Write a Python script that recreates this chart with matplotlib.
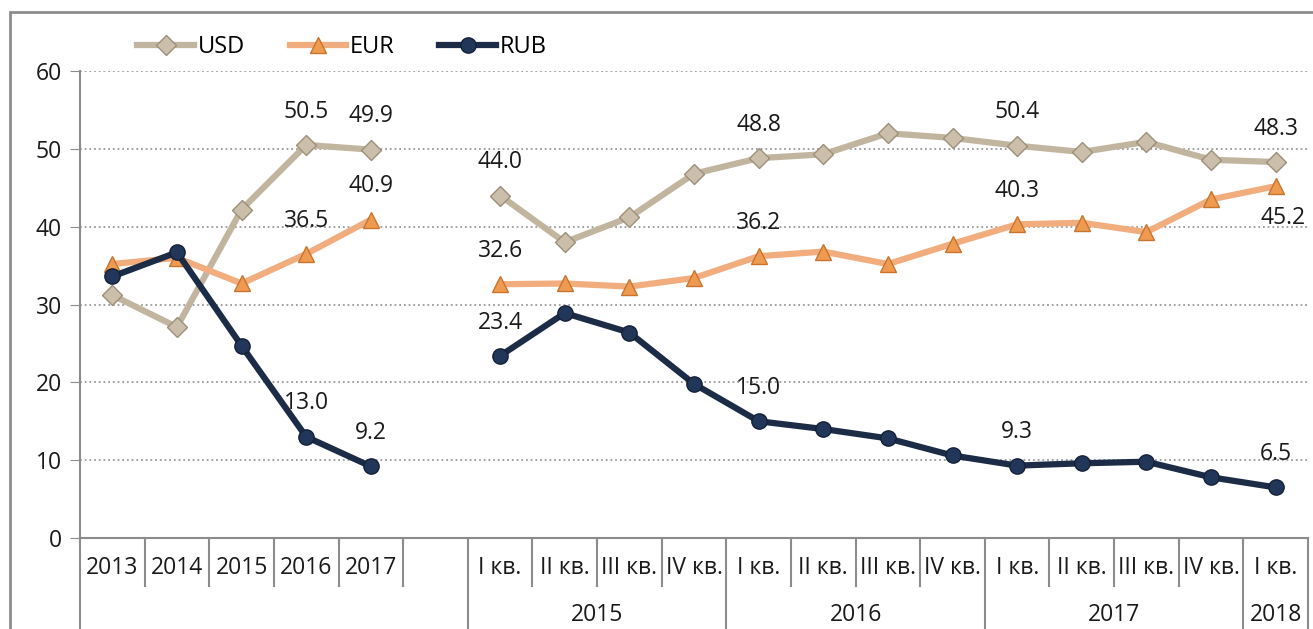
import numpy as np
import matplotlib

matplotlib.use("Agg")
import matplotlib.pyplot as plt
import matplotlib.patches as patches
import matplotlib.transforms as mtransforms
from matplotlib.lines import Line2D

plt.rcParams["font.family"] = ["Open Sans", "DejaVu Sans"]

# ---- data ---------------------------------------------------------------- #
years = ["2013", "2014", "2015", "2016", "2017"]
quarters = ["I кв.", "II кв.", "III кв.", "IV кв.",
            "I кв.", "II кв.", "III кв.", "IV кв.",
            "I кв.", "II кв.", "III кв.", "IV кв.",
            "I кв."]
quarter_years = ["2015", "2016", "2017", "2018"]
quarters_per_year = [4, 4, 4, 1]

usd_years = [31.2, 27.1, 42.2, 50.5, 49.9]
eur_years = [35.2, 36.0, 32.7, 36.5, 40.9]
rub_years = [33.6, 36.7, 24.7, 13.0, 9.2]

usd_q = [44.0, 38.0, 41.2, 46.8, 48.8, 49.3, 52.0, 51.4, 50.4, 49.6, 50.9, 48.6, 48.3]
eur_q = [32.6, 32.7, 32.3, 33.4, 36.2, 36.8, 35.2, 37.8, 40.3, 40.5, 39.3, 43.5, 45.2]
rub_q = [23.4, 28.9, 26.4, 19.8, 15.0, 14.0, 12.8, 10.6, 9.3, 9.6, 9.8, 7.8, 6.5]

# labelled points: category index -> above/below
labels_usd = {3: "above", 4: "above", 6: "above", 10: "above", 14: "above", 18: "above"}
labels_eur = {3: "above", 4: "above", 6: "above", 10: "above", 14: "above", 18: "below"}
labels_rub = {3: "above", 4: "above", 6: "above", 10: "above", 14: "above", 18: "above"}

# ---- layout -------------------------------------------------------------- #
cats = years + [""] + quarters
n = len(cats)
x = np.arange(n)


def join(a, b):
    return np.array(a + [np.nan] + b, dtype=float)


usd = join(usd_years, usd_q)
eur = join(eur_years, eur_q)
rub = join(rub_years, rub_q)

fig = plt.figure(figsize=(13.13, 6.29), dpi=100)
ax = fig.add_axes([80 / 1313, 1 - 538 / 629, 1228 / 1313, 467 / 629])

grey = "#8c8c8c"
txt = "#1a1a1a"
fs = 16.5
styles = {
    "USD": dict(color="#c2b5a0", marker="D", mfc="#cbbfab", mec="#9c8f7a", ms=10),
    "EUR": dict(color="#f2ad7e", marker="^", mfc="#ee9a50", mec="#c8742e", ms=12),
    "RUB": dict(color="#1c2c47", marker="o", mfc="#22365a", mec="#142036", ms=11),
}
series = {"USD": (usd, labels_usd), "EUR": (eur, labels_eur), "RUB": (rub, labels_rub)}

handles = []
for name, (vals, lab) in series.items():
    st = styles[name]
    ax.plot(x, vals, lw=4.5, solid_joinstyle="round", zorder=3, **st)
    handles.append(Line2D([0], [0], lw=4.5, **st))
    for i, pos in lab.items():
        dy = 24 if pos == "above" else -23
        dx = 0 if pos == "above" else 5
        ax.annotate(f"{vals[i]:.1f}", (x[i], vals[i]), textcoords="offset points",
                    xytext=(dx, dy), ha="center", va="center", fontsize=fs,
                    color=txt, zorder=4)

ax.set_xlim(-0.5, n - 0.5)
ax.set_ylim(0, 60)
ax.set_yticks(range(0, 61, 10))
ax.tick_params(axis="y", length=7, color=grey, labelsize=fs, pad=6, labelcolor=txt)
ax.set_xticks([])
ax.grid(axis="y", color="#9a9a9a", ls=(0, (1, 1.6)), lw=1.3)
ax.set_axisbelow(True)
for s in ["top", "right"]:
    ax.spines[s].set_visible(False)
for s in ["left", "bottom"]:
    ax.spines[s].set_color(grey)
    ax.spines[s].set_linewidth(1.5)

# ---- two-level category axis --------------------------------------------- #
tr = mtransforms.blended_transform_factory(ax.transData, ax.transAxes)
row1 = -48 / 467
row2 = -95 / 467
line_kw = dict(color=grey, lw=1.5, transform=tr, clip_on=False)

group_edges = [-0.5, 5.5]
start = 5.5
for k in quarters_per_year:
    start += k
    group_edges.append(start)

for i in range(n):
    ax.text(x[i], -30 / 467, cats[i], transform=tr, ha="center", va="center",
            fontsize=fs, color=txt)
for e in np.arange(-0.5, n, 1.0):
    bottom = row2 if e in group_edges else row1
    ax.plot([e, e], [0, bottom], **line_kw)

start = 5.5
for yr, k in zip(quarter_years, quarters_per_year):
    ax.text(start + k / 2, -77 / 467, yr, transform=tr, ha="center", va="center",
            fontsize=fs, color=txt)
    start += k

# ---- legend & frame ------------------------------------------------------ #
fig.legend(handles, list(series), loc="center", bbox_to_anchor=(342 / 1313, 1 - 47 / 629),
           ncol=3, frameon=False, fontsize=17, handlelength=2.4, columnspacing=1.9,
           handletextpad=0.15)

fig.patches.append(patches.Rectangle((10 / 1313, -0.1), 1.2, 1.1 - 12 / 629, fill=False,
                                     edgecolor=grey, lw=2, transform=fig.transFigure))

fig.savefig("out.png", dpi=100)
